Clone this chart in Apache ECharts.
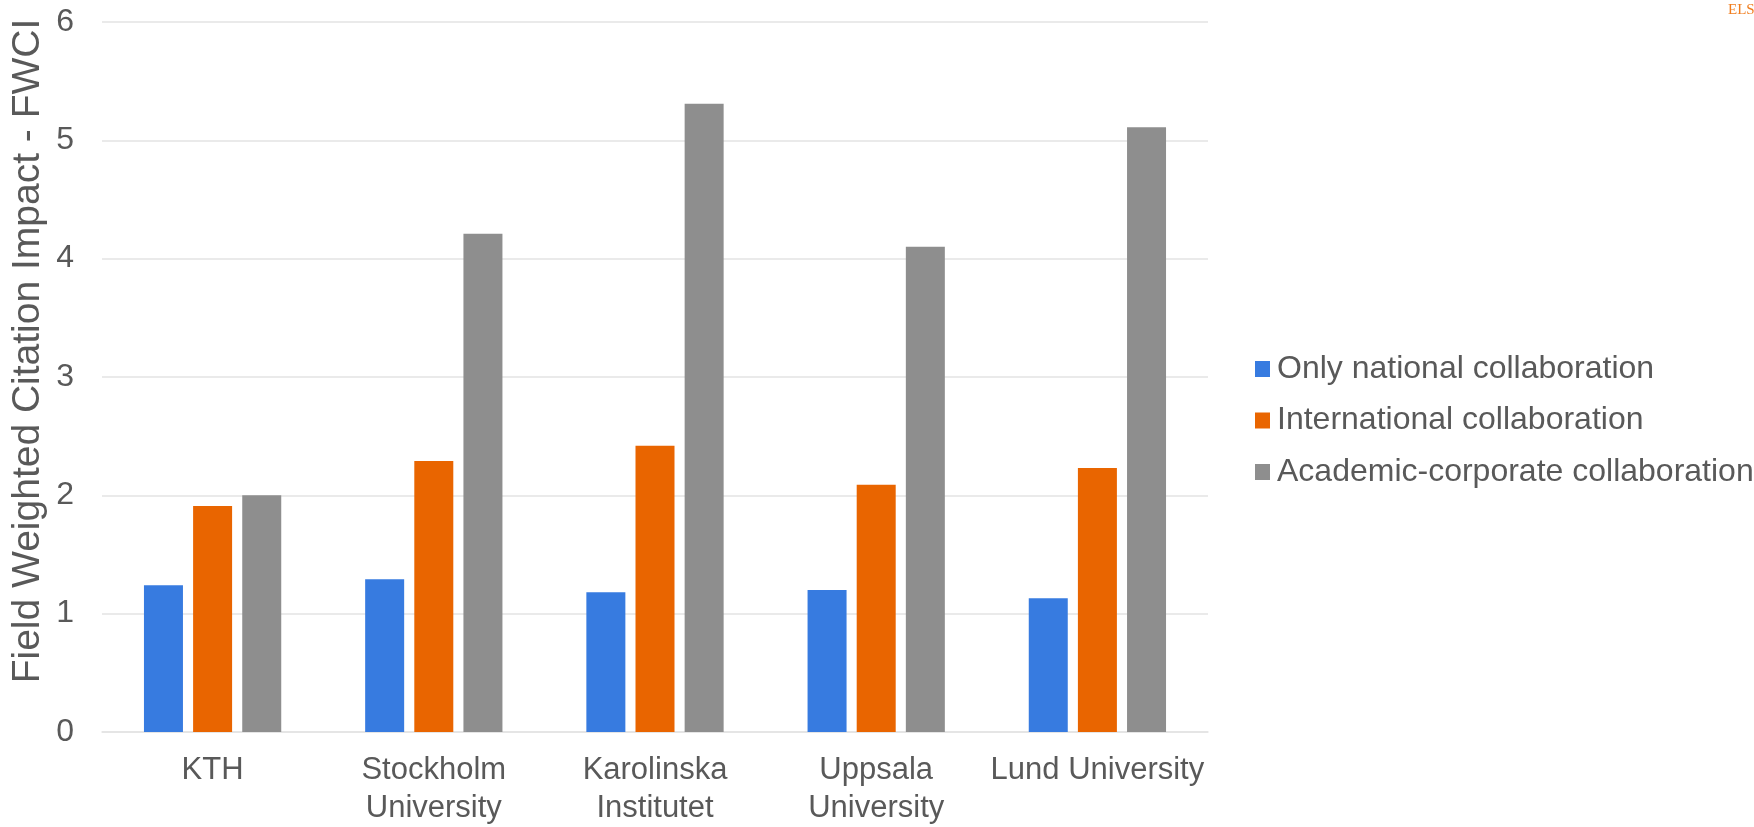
<!DOCTYPE html>
<html>
<head>
<meta charset="utf-8">
<script src="https://cdn.jsdelivr.net/npm/echarts@6/dist/echarts.min.js"></script>
<style>
html,body{margin:0;padding:0;background:#fff;}
#chart{width:1754px;height:827px;}
</style>
</head>
<body>
<div id="chart"></div>
<script>
var categories = ['KTH', 'Stockholm\nUniversity', 'Karolinska\nInstitutet', 'Uppsala\nUniversity', 'Lund University'];
var seriesNames = ['Only national collaboration', 'International collaboration', 'Academic-corporate collaboration'];
var nationalValues = [1.24, 1.29, 1.18, 1.20, 1.13];
var internationalValues = [1.91, 2.29, 2.42, 2.09, 2.23];
var corporateValues = [2.00, 4.21, 5.31, 4.10, 5.11];
var yTicks = [0, 1, 2, 3, 4, 5, 6];
var yAxisTitle = 'Field Weighted Citation Impact - FWCI';
var cornerText = 'ELS';

var colors = ['#377BE0', '#E96500', '#8E8E8E'];
var textColor = '#595959';
var font = '"Liberation Sans", Arial, sans-serif';

var chart = echarts.init(document.getElementById('chart'), null, {renderer: 'canvas'});
function bar(name, data, color) {
  return {
    name: name, type: 'bar', data: data, barWidth: 39, barGap: '26%',
    itemStyle: {color: color}, emphasis: {disabled: true}
  };
}
chart.setOption({
  animation: false,
  backgroundColor: '#ffffff',
  color: colors,
  grid: {left: 102, right: 546, top: 22, bottom: 91, containLabel: false},
  legend: {
    orient: 'vertical', left: 1250, top: 348,
    itemWidth: 15, itemHeight: 16, itemGap: 19.5,
    icon: 'rect',
    textStyle: {color: textColor, fontSize: 32, lineHeight: 32, fontFamily: font, padding: [0, 0, 0, 2]},
    data: seriesNames
  },
  xAxis: {
    type: 'category', data: categories,
    axisLine: {show: true, lineStyle: {color: '#E3E3E3', width: 1.5}},
    axisTick: {show: false},
    axisLabel: {color: textColor, fontSize: 31, lineHeight: 38, fontFamily: font, margin: 19, interval: 0}
  },
  yAxis: {
    type: 'value', min: yTicks[0], max: yTicks[yTicks.length - 1], interval: 1,
    axisLine: {show: false}, axisTick: {show: false},
    splitLine: {lineStyle: {color: '#E3E3E3', width: 1.5}},
    axisLabel: {color: textColor, fontSize: 32, fontFamily: font, margin: 28}
  },
  graphic: [
    {
      type: 'text', x: 28, y: 351, rotation: Math.PI / 2,
      style: {text: yAxisTitle, fill: textColor, font: '39px ' + font, textAlign: 'center', textVerticalAlign: 'middle'}
    },
    {
      type: 'text', x: 1728, y: 3,
      style: {text: cornerText, fill: '#F07D1E', font: '15px "Liberation Serif", "DejaVu Serif", serif', textAlign: 'left', textVerticalAlign: 'top'}
    }
  ],
  series: [
    bar(seriesNames[0], nationalValues, colors[0]),
    bar(seriesNames[1], internationalValues, colors[1]),
    bar(seriesNames[2], corporateValues, colors[2])
  ]
});
</script>
</body>
</html>
